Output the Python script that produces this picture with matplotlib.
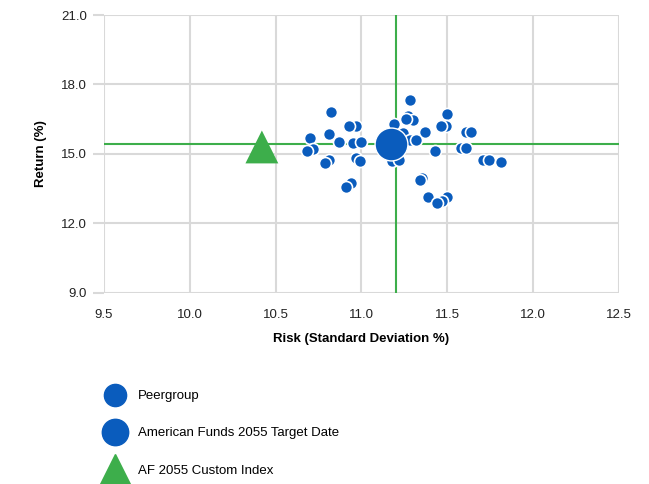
import matplotlib
matplotlib.use("Agg")
import matplotlib.pyplot as plt
from matplotlib.lines import Line2D

plt.rcParams['font.family'] = ['Liberation Sans', 'DejaVu Sans']

peer_risk = [10.82, 11.28, 11.27, 11.50, 11.49, 11.46, 10.97, 10.93, 10.81, 11.37, 11.61, 11.64,
             10.70, 10.87, 10.95, 11.19, 11.24, 11.28, 11.32, 10.72, 10.68, 11.43, 11.58, 11.61,
             10.81, 10.79, 10.97, 10.99, 11.18, 11.22, 11.71, 11.74, 11.81, 11.35, 11.34, 10.94,
             10.91, 11.39, 11.50, 11.47, 11.44, 11.30, 11.26, 11.00]
peer_return = [16.80, 17.31, 16.62, 16.72, 16.19, 16.19, 16.22, 16.20, 15.86, 15.96, 15.96, 15.96,
               15.68, 15.53, 15.47, 16.29, 15.90, 15.61, 15.61, 15.21, 15.11, 15.11, 15.24, 15.24,
               14.75, 14.62, 14.82, 14.70, 14.71, 14.75, 14.75, 14.75, 14.65, 13.96, 13.88, 13.75,
               13.57, 13.12, 13.12, 12.95, 12.88, 16.45, 16.50, 15.50]
fund_risk = [11.17]
fund_return = [15.44]
index_risk = [10.42]
index_return = [15.30]
cross_x = 11.20
cross_y = 15.44

x_ticks = [9.5, 10.0, 10.5, 11.0, 11.5, 12.0, 12.5]
y_ticks = [9.0, 12.0, 15.0, 18.0, 21.0]

blue = '#0a5cbd'
green = '#3dae4b'
grid_c = '#d9d9d9'

fig = plt.figure(figsize=(6.49, 4.84), dpi=100)
ax = fig.add_axes([0.160, 0.395, 0.794, 0.574])

ax.set_xlim(9.5, 12.5)
ax.set_ylim(9.0, 21.0)
ax.set_xticks(x_ticks)
ax.set_yticks(y_ticks)
ax.set_xticklabels([f"{v:.1f}" for v in x_ticks])
ax.set_yticklabels([f"{v:.1f}" for v in y_ticks])
ax.grid(True, color=grid_c, linewidth=1.5, zorder=0)
ax.set_axisbelow(True)
for s in ax.spines.values():
    s.set_visible(False)
ax.tick_params(axis='y', length=8, width=1.5, color=grid_c, pad=4, labelsize=9.5, labelcolor='#222222')
ax.tick_params(axis='x', length=0, pad=12, labelsize=9.5, labelcolor='#222222')

ax.axvline(cross_x, color=green, linewidth=1.5, zorder=2)
ax.axhline(cross_y, color=green, linewidth=1.5, zorder=2)

ax.scatter(peer_risk, peer_return, s=75, color=blue, edgecolors='white', linewidths=1.2, zorder=3)
ax.scatter(fund_risk, fund_return, s=560, color=blue, edgecolors='white', linewidths=1.0, zorder=4)
ax.scatter(index_risk, index_return, s=560, marker='^', color=green, edgecolors='none', zorder=4)

ax.set_xlabel('Risk (Standard Deviation %)', fontsize=9.5, fontweight='bold', labelpad=8)
ax.set_ylabel('Return (%)', fontsize=9.5, fontweight='bold', labelpad=10)

handles = [
    Line2D([], [], linestyle='none', marker='o', markersize=16, color=blue, markeredgecolor=blue),
    Line2D([], [], linestyle='none', marker='o', markersize=19, color=blue, markeredgecolor=blue),
    Line2D([], [], linestyle='none', marker='^', markersize=22, color=green, markeredgecolor=green),
]
labels = ['Peergroup', 'American Funds 2055 Target Date', 'AF 2055 Custom Index']
fig.legend(handles, labels, loc='upper left', bbox_to_anchor=(0.152, 0.208), frameon=False,
           fontsize=9.5, labelspacing=1.9, handletextpad=1.0, borderpad=0, handlelength=1.5)

fig.savefig('out.png', dpi=100)
